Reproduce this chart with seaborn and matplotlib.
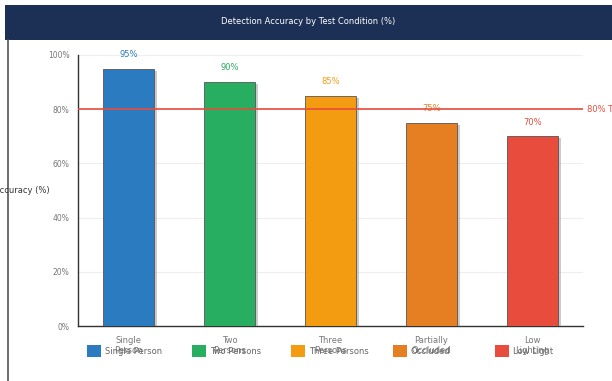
import matplotlib
matplotlib.use("Agg")
import matplotlib.pyplot as plt
import matplotlib.patheffects as pe
from matplotlib.patches import Rectangle, Patch
from matplotlib.lines import Line2D
import seaborn as sns
import pandas as pd

categories = ["Single Person", "Two Persons", "Three Persons", "Partially Occluded", "Low Lighting"]
tick_labels = ["Single\nPerson", "Two\nPersons", "Three\nPersons", "Partially\nOccluded", "Low\nLighting"]
legend_labels = ["Single Person", "Two Persons", "Three Persons", "Occluded", "Low Light"]
accuracy = [95, 90, 85, 75, 70]
colors = ["#2a7bbf", "#27ae60", "#f39c12", "#e67e22", "#e74c3c"]
target = 80
yticks = [0, 20, 40, 60, 80, 100]

sns.set_style("white")
plt.rcParams['font.family'] = ['DejaVu Sans']

W, H = 612, 381
fig = plt.figure(figsize=(W / 100, H / 100), dpi=100)
fig.patch.set_facecolor("white")

def fx(x):
    return x / W

def fy(y):
    return 1 - y / H

# header
fig.patches.append(Rectangle((fx(5), fy(40)), fx(612 - 5), 35 / H, transform=fig.transFigure,
                             facecolor="#1c2f55", edgecolor="none", zorder=0))
fig.text(fx(308), fy(22), "Detection Accuracy by Test Condition (%)", color="white",
         fontsize=6, ha="center", va="center")
# left border line
fig.add_artist(Line2D([fx(7.5), fx(7.5)], [0, fy(40)], transform=fig.transFigure,
                      color="#555555", lw=1.2))

ax = fig.add_axes([fx(78), fy(326), fx(583 - 78), (326 - 55) / H])
df = pd.DataFrame({"cond": categories, "acc": accuracy})
sns.barplot(data=df, x="cond", y="acc", hue="cond", palette=colors, legend=False,
            width=0.5, ax=ax, edgecolor="#555555", linewidth=0.6, saturation=1)

for bar in ax.patches:
    bar.set_path_effects([pe.SimplePatchShadow(offset=(2.5, -1.5), shadow_rgbFace="#999999", alpha=0.5),
                          pe.Normal()])
    bar.set_zorder(3)

ax.set_xlim(-0.5, 4.5)
ax.set_ylim(0, 100)
ax.set_yticks(yticks)
ax.set_yticklabels([f"{v}%" for v in yticks], fontsize=5.5, color="#777777")
ax.set_xticks(range(len(categories)))
ax.set_xticklabels(tick_labels, fontsize=6, color="#777777", linespacing=1.25)
ax.tick_params(axis="both", length=0, pad=6)
ax.tick_params(axis="x", pad=7)
ax.set_xlabel("")
ax.set_ylabel("")
ax.grid(axis="y", color="#eeeeee", lw=0.8, zorder=0)
ax.set_axisbelow(True)
for s in ["top", "right"]:
    ax.spines[s].set_visible(False)
for s in ["left", "bottom"]:
    ax.spines[s].set_color("#333333")
    ax.spines[s].set_linewidth(1.0)

for i, (v, c) in enumerate(zip(accuracy, colors)):
    ax.annotate(f"{v}%", (i, v), xytext=(0, 7), textcoords="offset points",
                ha="center", va="bottom", fontsize=6, color=c)

ax.axhline(target, xmin=0, xmax=1.0, color="#e74c3c", lw=1.2, zorder=4)
ax.annotate("80% Target", (1.0, target), xycoords=("axes fraction", "data"), xytext=(3, 0),
            textcoords="offset points", ha="left", va="center", fontsize=6, color="#e74c3c",
            annotation_clip=False)

fig.text(fx(50), fy(190), "Accuracy (%)", fontsize=6, ha="right", va="center", color="#333333")

legend_x = [87, 192, 291, 393, 495]
for lx, c, lab in zip(legend_x, colors, legend_labels):
    leg = fig.legend([Patch(facecolor=c, edgecolor="none")], [lab], loc="center left",
                     bbox_to_anchor=(fx(lx), fy(351)), frameon=False, fontsize=6,
                     handlelength=1.7, handleheight=1.7, handletextpad=0.45,
                     borderaxespad=0, borderpad=0, labelcolor="#666666")

fig.savefig("out.png", dpi=100)
